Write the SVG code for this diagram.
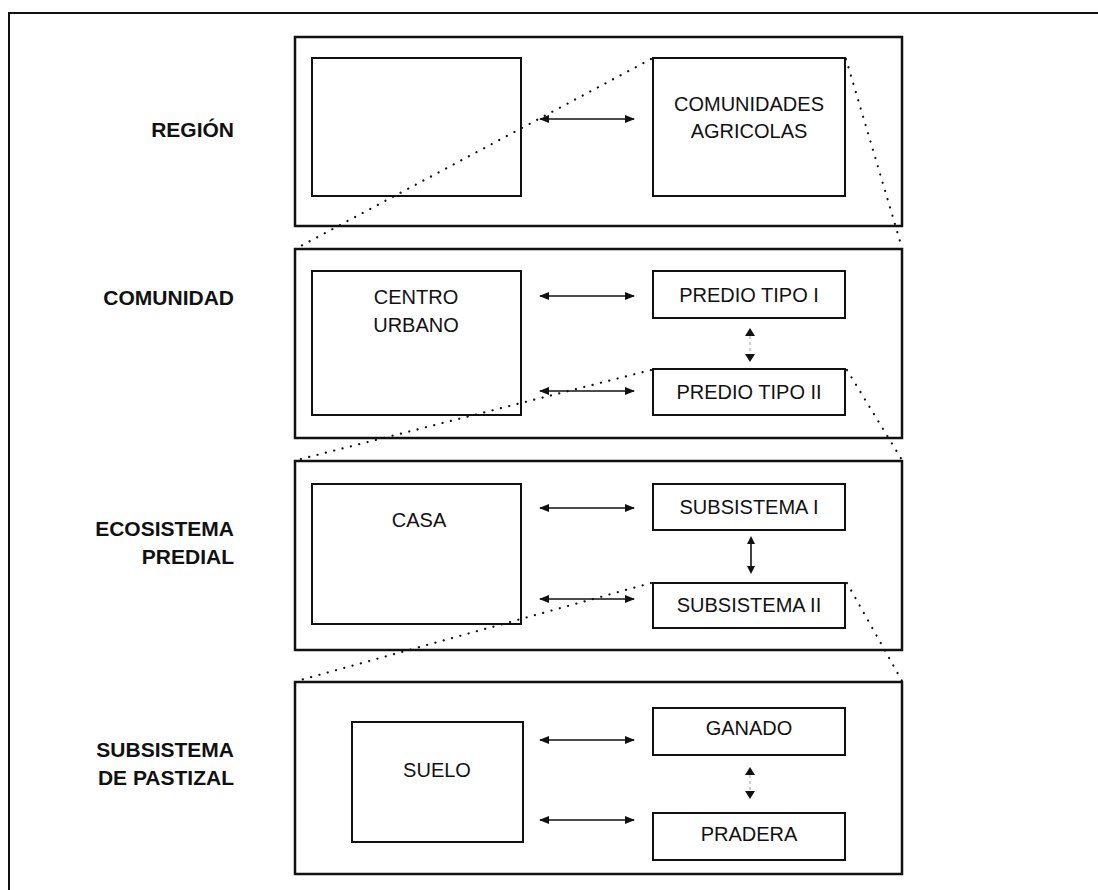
<svg xmlns="http://www.w3.org/2000/svg" width="1098" height="890" viewBox="0 0 1098 890">
<defs>
<marker id="ah" viewBox="0 0 10 8" refX="9" refY="4" markerWidth="10" markerHeight="8" markerUnits="userSpaceOnUse" orient="auto-start-reverse">
<path d="M0,0 L10,4 L0,8 Z" fill="#111"/>
</marker>
<style>
.lvl{fill:none;stroke:#111;stroke-width:2.5}
.box{fill:none;stroke:#111;stroke-width:2}
.lab{font-family:"Liberation Sans",Arial,sans-serif;font-size:21px;font-weight:bold;fill:#111;text-anchor:end}
.txt{font-family:"Liberation Sans",Arial,sans-serif;font-size:20px;fill:#111;text-anchor:middle}
.arr{stroke:#111;stroke-width:1.6;fill:none;marker-start:url(#ah);marker-end:url(#ah)}
.dot{stroke:#111;stroke-width:2.2;fill:none;stroke-dasharray:0.1 8.5;stroke-linecap:round}
.faint{stroke:#999;stroke-width:1;stroke-dasharray:3 3}
</style>
</defs>
<rect width="1098" height="890" fill="#fff"/>
<path d="M9,890 V13 H1098" fill="none" stroke="#111" stroke-width="2"/>

<g id="region">
<rect class="lvl" x="295" y="37" width="607" height="189"/>
<text class="lab" x="234" y="137">REGIÓN</text>
</g>
<g id="region-otro"><rect class="box" x="312" y="58" width="209" height="138"/></g>
<g id="comunidades-agricolas">
<rect class="box" x="653" y="58" width="192" height="138"/>
<text class="txt" x="749" y="111">COMUNIDADES</text>
<text class="txt" x="749" y="138">AGRICOLAS</text>
</g>

<g id="comunidad">
<rect class="lvl" x="295" y="249" width="607" height="189"/>
<text class="lab" x="234" y="305">COMUNIDAD</text>
</g>
<g id="centro-urbano">
<rect class="box" x="312" y="271" width="209" height="144"/>
<text class="txt" x="416" y="304">CENTRO</text>
<text class="txt" x="416" y="332">URBANO</text>
</g>
<g id="predio-tipo-1">
<rect class="box" x="653" y="271" width="192" height="47"/>
<text class="txt" x="749" y="302">PREDIO TIPO I</text>
</g>
<g id="predio-tipo-2">
<rect class="box" x="653" y="369" width="192" height="46"/>
<text class="txt" x="749" y="399">PREDIO TIPO II</text>
</g>

<g id="ecosistema-predial">
<rect class="lvl" x="295" y="461" width="607" height="189"/>
<text class="lab" x="234" y="536">ECOSISTEMA</text>
<text class="lab" x="234" y="564">PREDIAL</text>
</g>
<g id="casa">
<rect class="box" x="312" y="484" width="209" height="140"/>
<text class="txt" x="419" y="527">CASA</text>
</g>
<g id="subsistema-1">
<rect class="box" x="653" y="484" width="192" height="46"/>
<text class="txt" x="749" y="514">SUBSISTEMA I</text>
</g>
<g id="subsistema-2">
<rect class="box" x="653" y="583" width="192" height="45"/>
<text class="txt" x="749" y="612">SUBSISTEMA II</text>
</g>

<g id="subsistema-pastizal">
<rect class="lvl" x="295" y="682" width="607" height="192"/>
<text class="lab" x="234" y="757">SUBSISTEMA</text>
<text class="lab" x="234" y="785">DE PASTIZAL</text>
</g>
<g id="suelo">
<rect class="box" x="352" y="722" width="171" height="120"/>
<text class="txt" x="437" y="777">SUELO</text>
</g>
<g id="ganado">
<rect class="box" x="653" y="708" width="192" height="47"/>
<text class="txt" x="749" y="735">GANADO</text>
</g>
<g id="pradera">
<rect class="box" x="653" y="813" width="192" height="47"/>
<text class="txt" x="749" y="841">PRADERA</text>
</g>

<g id="connectors">
<line class="arr" x1="540" y1="119" x2="634" y2="119"/>
<line class="arr" x1="540" y1="296" x2="634" y2="296"/>
<line class="arr" x1="540" y1="391" x2="634" y2="391"/>
<line class="arr" x1="540" y1="508" x2="634" y2="508"/>
<line class="arr" x1="540" y1="599" x2="634" y2="599"/>
<line class="arr" x1="540" y1="740" x2="634" y2="740"/>
<line class="arr" x1="540" y1="820" x2="634" y2="820"/>

<line class="faint" x1="750" y1="336" x2="750" y2="354"/>
<path d="M750,328 L755,336 L745,336 Z M750,362 L755,354 L745,354 Z" fill="#111"/>
<line x1="751" y1="543" x2="751" y2="567" stroke="#111" stroke-width="1.6"/>
<path d="M751,536 L755,544 L747,544 Z M751,574 L755,566 L747,566 Z" fill="#111"/>
<line class="faint" x1="750" y1="775" x2="750" y2="790"/>
<path d="M750,767 L755,775 L745,775 Z M750,799 L755,791 L745,791 Z" fill="#111"/>

<line class="dot" x1="651" y1="59" x2="297" y2="248"/>
<line class="dot" x1="846" y1="59" x2="902" y2="248"/>
<line class="dot" x1="651" y1="370" x2="297" y2="460"/>
<line class="dot" x1="847" y1="370" x2="902" y2="460"/>
<line class="dot" x1="651" y1="583" x2="297" y2="681"/>
<line class="dot" x1="847" y1="583" x2="902" y2="681"/>
</g>
</svg>
